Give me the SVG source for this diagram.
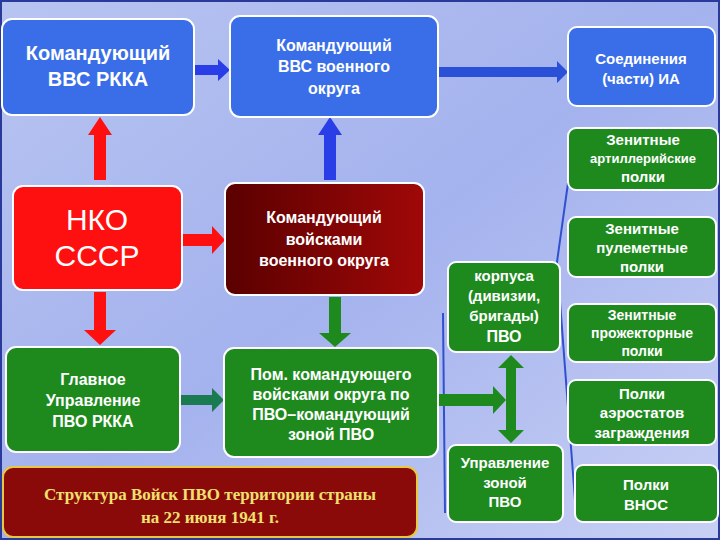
<svg xmlns="http://www.w3.org/2000/svg" width="720" height="540" viewBox="0 0 720 540">
<defs>
<linearGradient id="bg" x1="0" y1="0" x2="1" y2="1"><stop offset="0" stop-color="#b8c4f0"/><stop offset="0.5" stop-color="#a4b2ee"/><stop offset="1" stop-color="#c8d0f4"/></linearGradient>
<linearGradient id="dred" x1="0" y1="0" x2="1" y2="0"><stop offset="0" stop-color="#5a0000"/><stop offset="1" stop-color="#a00808"/></linearGradient>
</defs>
<style>
.b{fill:#3a6ee8;stroke:#fff;stroke-width:2}
.g{fill:#1e8a1e;stroke:#fff;stroke-width:2}
.r{fill:#ff1010;stroke:#fff;stroke-width:2}
.dr{fill:url(#dred);stroke:#fff;stroke-width:2}
text{font-family:"Liberation Sans",Arial,sans-serif;fill:#fff;text-anchor:middle;font-weight:bold}
.t{font-size:16px}
.s{font-size:15px}
</style>
<rect width="720" height="540" fill="url(#bg)"/>
<rect x="1" y="1" width="718" height="538" fill="none" stroke="#2a3a9a" stroke-width="2"/>
<g id="connectors">
<polyline points="568,183 557,262 575,500" fill="none" stroke="#3050d0" stroke-width="2"/>
<line x1="443" y1="313" x2="445" y2="513" stroke="#3050d0" stroke-width="2"/>
<polygon points="94,180 94,135 88,135 100,117 112,135 106,135 106,180" fill="#ff1010"/>
<polygon points="324,180 324,135 318,135 330,117 342,135 336,135 336,180" fill="#2a3ee8"/>
<polygon points="194,65 218,65 218,59 230,70 218,81 218,75 194,75" fill="#2a3ee8"/>
<polygon points="438,67 557,67 557,61 568,72 557,83 557,77 438,77" fill="#2a50d8"/>
<polygon points="182,234 212,234 212,226 225,240 212,254 212,246 182,246" fill="#ff1010"/>
<polygon points="94,292 94,330 84,330 100,345 116,330 106,330 106,292" fill="#ff1010"/>
<polygon points="329,297 329,333 319,333 335,347 351,333 341,333 341,297" fill="#1e8a1e"/>
<polygon points="180,395 212,395 212,388 224,400 212,412 212,405 180,405" fill="#1a7a50"/>
<polygon points="438,394 493,394 493,386 506,400 493,414 493,406 438,406" fill="#1e8a1e"/>
<polygon points="511,355 524,368 516,368 516,430 524,430 511,443 498,430 506,430 506,368 498,368" fill="#1e8a1e"/>
</g>
<g id="n1"><rect class="b" x="2" y="19" width="192" height="96" rx="10"/><text x="98" y="60" style="font-size:20px">Командующий</text><text x="98" y="86" style="font-size:20px">ВВС РККА</text></g>
<g id="n2"><rect class="b" x="230" y="16" width="208" height="101" rx="10"/><text class="t" x="334" y="51">Командующий</text><text class="t" x="334" y="72">ВВС военного</text><text class="t" x="334" y="94">округа</text></g>
<g id="n3"><rect class="b" x="568" y="27" width="147" height="79" rx="9"/><text class="s" x="641" y="64">Соединения</text><text class="s" x="641" y="84">(части) ИА</text></g>
<g id="n4"><rect class="r" x="13" y="186" width="169" height="104" rx="10"/><text x="97" y="230" style="font-size:30px;font-weight:normal">НКО</text><text x="97" y="266" style="font-size:30px;font-weight:normal">СССР</text></g>
<g id="n5"><rect class="dr" x="225" y="183" width="199" height="112" rx="10"/><text class="t" x="324" y="223">Командующий</text><text class="t" x="324" y="245">войсками</text><text class="t" x="324" y="266">военного округа</text></g>
<g id="n6"><rect class="g" x="6" y="347" width="174" height="105" rx="10"/><text class="t" x="93" y="385">Главное</text><text class="t" x="93" y="406">Управление</text><text class="t" x="93" y="427">ПВО РККА</text></g>
<g id="n7"><rect class="g" x="224" y="348" width="214" height="109" rx="10"/><text class="t" x="331" y="380">Пом. командующего</text><text class="t" x="331" y="400">войсками округа по</text><text class="t" x="331" y="420">ПВО–командующий</text><text class="t" x="331" y="440">зоной ПВО</text></g>
<g id="n8"><rect x="3" y="467" width="414" height="70" rx="10" fill="#8a0a0a" stroke="#e8c840" stroke-width="2"/><text x="210" y="500" style="font-family:'Liberation Serif',serif;font-size:17px;fill:#f0e070">Структура Войск ПВО территории страны</text><text x="210" y="523" style="font-family:'Liberation Serif',serif;font-size:17px;fill:#f0e070">на 22 июня 1941 г.</text></g>
<g id="n9"><rect class="g" x="448" y="262" width="112" height="90" rx="8"/><text class="s" x="504" y="281">корпуса</text><text class="s" x="504" y="301">(дивизии,</text><text class="s" x="504" y="321">бригады)</text><text x="504" y="342" style="font-size:16px">ПВО</text></g>
<g id="n10"><rect class="g" x="448" y="445" width="115" height="77" rx="8"/><text class="s" x="505" y="468">Управление</text><text class="s" x="505" y="488">зоной</text><text class="s" x="505" y="507">ПВО</text></g>
<g id="n11"><rect class="g" x="568" y="128" width="150" height="62" rx="8"/><text class="s" x="643" y="145">Зенитные</text><text x="643" y="163" style="font-size:13px">артиллерийские</text><text class="s" x="643" y="182">полки</text></g>
<g id="n12"><rect class="g" x="568" y="217" width="148" height="60" rx="8"/><text class="s" x="642" y="234">Зенитные</text><text class="s" x="642" y="253">пулеметные</text><text class="s" x="642" y="272">полки</text></g>
<g id="n13"><rect class="g" x="568" y="304" width="148" height="58" rx="8"/><text x="642" y="320" style="font-size:14px">Зенитные</text><text x="642" y="338" style="font-size:14px">прожекторные</text><text x="642" y="356" style="font-size:14px">полки</text></g>
<g id="n14"><rect class="g" x="568" y="380" width="148" height="65" rx="8"/><text class="s" x="642" y="399">Полки</text><text class="s" x="642" y="418">аэростатов</text><text class="s" x="642" y="438">заграждения</text></g>
<g id="n15"><rect class="g" x="575" y="465" width="143" height="57" rx="8"/><text class="s" x="646" y="490">Полки</text><text class="s" x="646" y="510">ВНОС</text></g>
</svg>
